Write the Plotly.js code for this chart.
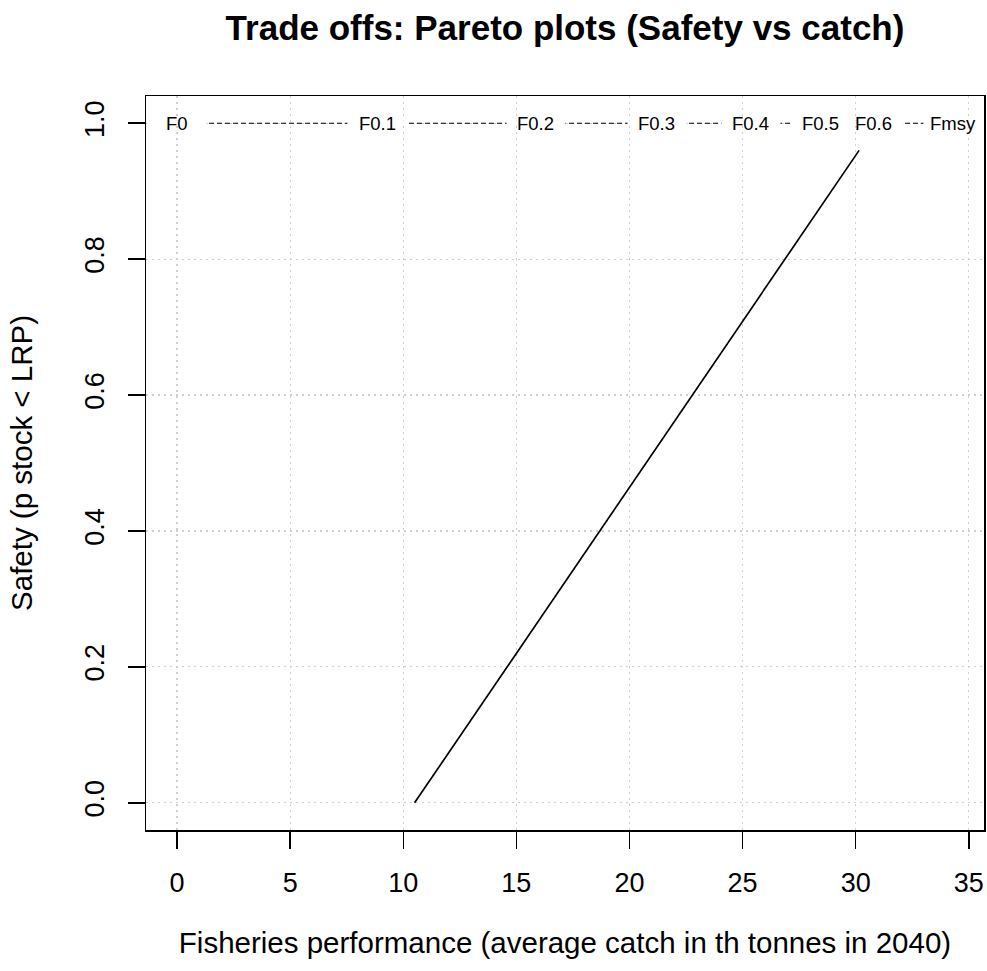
<!DOCTYPE html>
<html>
<head>
<meta charset="utf-8">
<script src="https://cdn.plot.ly/plotly-3.0.1.min.js"></script>
<style>
  html, body { margin: 0; padding: 0; background: #fff; }
  #chart { width: 987px; height: 971px; }
</style>
</head>
<body>
<div id="chart"></div>
<script>
// Fishing-mortality reference points: average catch (th tonnes, 2040) and safety
const refLabels = ["F0", "F0.1", "F0.2", "F0.3", "F0.4", "F0.5", "F0.6", "Fmsy"];
const refCatch  = [0, 8.85, 15.85, 21.2, 25.35, 28.45, 30.8, 34.3];
const refSafety = [1, 1, 1, 1, 1, 1, 1, 1];

// Pareto front: catch vs safety
const frontCatch  = [10.5, 30.15];
const frontSafety = [0.0, 0.96];

const xTicks = [0, 5, 10, 15, 20, 25, 30, 35];
const yTicks = [0, 0.2, 0.4, 0.6, 0.8, 1.0];

const FONT = "Liberation Sans, Arial, Helvetica, sans-serif";

const traces = [
  {
    x: refCatch, y: refSafety, type: "scatter", mode: "lines",
    line: { color: "#000", width: 1.1, dash: "5px,3px" },
    hoverinfo: "skip", showlegend: false
  },
  {
    x: frontCatch, y: frontSafety, type: "scatter", mode: "lines",
    line: { color: "#000", width: 1.7 },
    showlegend: false
  }
];

// Point labels drawn "type b" style: a white strip breaks the dashed line
// around each point, then the label text sits on top.
const annotations = [];
refLabels.forEach((lab, i) => {
  annotations.push({
    x: refCatch[i], y: refSafety[i], xref: "x", yref: "y",
    text: " ", showarrow: false, width: 58, height: 4,
    bgcolor: "#fff", borderpad: 0, font: { size: 2 }
  });
});
refLabels.forEach((lab, i) => {
  annotations.push({
    x: refCatch[i], y: refSafety[i], xref: "x", yref: "y",
    text: lab, showarrow: false,
    font: { family: FONT, size: 18.5, color: "#000" }
  });
});

const gridStyle = { showgrid: true, gridcolor: "#cfcfcf", gridwidth: 1.2, griddash: "2px,4px" };

const layout = {
  width: 987, height: 971,
  margin: { l: 146, r: 3, t: 96, b: 141 },
  paper_bgcolor: "#fff", plot_bgcolor: "#fff",
  font: { family: FONT, color: "#000" },
  title: {
    text: "<b>Trade offs: Pareto plots (Safety vs catch)</b>",
    font: { family: FONT, size: 35, color: "#000" },
    x: 0.5, xanchor: "center", xref: "paper",
    y: 1 - 28 / 971, yanchor: "middle", yref: "container"
  },
  xaxis: Object.assign({
    range: [-1.372, 35.672], tickvals: xTicks, ticktext: xTicks.map(String),
    ticks: "outside", ticklen: 17, tickwidth: 1.5, tickcolor: "#000",
    showline: true, linecolor: "#000", linewidth: 1.5, mirror: true,
    zeroline: false, tickfont: { size: 27 }, ticklabelstandoff: 11,
    title: { text: "Fisheries performance (average catch in th tonnes in 2040)",
             font: { size: 29.5 }, standoff: 35 },
    automargin: false
  }, gridStyle),
  yaxis: Object.assign({
    range: [-0.04, 1.04], tickvals: yTicks, tickformat: ".1f",
    ticks: "outside", ticklen: 17, tickwidth: 1.5, tickcolor: "#000",
    showline: true, linecolor: "#000", linewidth: 1.5, mirror: true,
    zeroline: false, tickfont: { size: 27 }, tickangle: -90, ticklabelstandoff: 13,
    title: { text: "Safety (p stock < LRP)", font: { size: 29.5 }, standoff: 38 },
    automargin: false
  }, gridStyle),
  annotations: annotations
};

Plotly.newPlot("chart", traces, layout, { displayModeBar: false, staticPlot: true });
</script>
</body>
</html>
